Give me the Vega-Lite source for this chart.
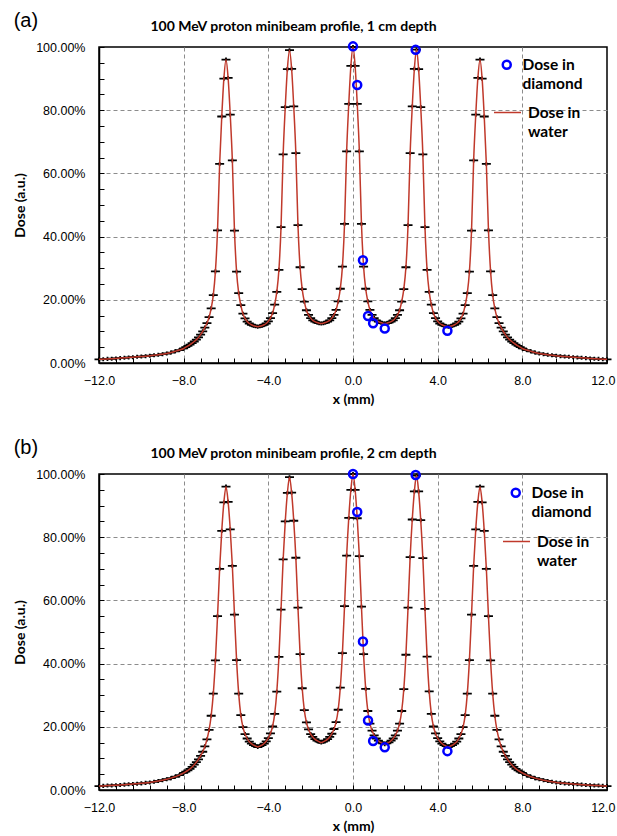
{
 "$schema": "https://vega.github.io/schema/vega-lite/v6.json",
 "background": "white",
 "padding": {"left": 12, "top": 10, "right": 2, "bottom": 2},
 "spacing": 29,
 "config": {
  "view": {"stroke": "black", "strokeWidth": 1.5},
  "axis": {
   "domainColor": "black", "domainWidth": 1.5,
   "tickColor": "black", "tickWidth": 1, "tickSize": -5,
   "labelFont": "Liberation Sans", "labelFontSize": 12.5, "labelColor": "black",
   "labelOverlap": false, "labelFlush": false,
   "titleFont": "Lato", "titleFontSize": 13, "titleFontWeight": "bold", "titleColor": "black",
   "gridColor": "#8c8c8c", "gridDash": [4, 3], "gridWidth": 1
  },
  "title": {"font": "Liberation Sans", "fontSize": 20, "fontWeight": "normal", "color": "black", "anchor": "start", "frame": "bounds"},
  "legend": {"labelFont": "Lato", "labelFontSize": 15.5, "labelFontWeight": "bold", "labelColor": "black", "padding": 0, "labelOffset": 6},
  "style": {"guide-label": {"lineHeight": 19}}
 },
 "datasets": {
  "prof": [
   {"x":-12.0,"a":1.15,"b":1.25},{"x":-11.8,"a":1.2,"b":1.3},{"x":-11.6,"a":1.3,"b":1.4},{"x":-11.4,"a":1.35,"b":1.45},{"x":-11.2,"a":1.45,"b":1.5},
   {"x":-11.0,"a":1.55,"b":1.6},{"x":-10.8,"a":1.65,"b":1.7},{"x":-10.6,"a":1.75,"b":1.8},{"x":-10.4,"a":1.85,"b":1.9},{"x":-10.2,"a":1.95,"b":2.0},
   {"x":-10.0,"a":2.05,"b":2.1},{"x":-9.8,"a":2.15,"b":2.25},{"x":-9.6,"a":2.3,"b":2.4},{"x":-9.4,"a":2.45,"b":2.6},{"x":-9.2,"a":2.6,"b":2.85},
   {"x":-9.0,"a":2.8,"b":3.1},{"x":-8.8,"a":3.0,"b":3.4},{"x":-8.6,"a":3.3,"b":3.75},{"x":-8.4,"a":3.7,"b":4.2},{"x":-8.2,"a":4.1,"b":4.7},
   {"x":-8.0,"a":4.6,"b":5.4},{"x":-7.9,"a":5.0,"b":5.8},{"x":-7.8,"a":5.4,"b":6.2},{"x":-7.7,"a":5.8,"b":6.7},{"x":-7.6,"a":6.3,"b":7.3},
   {"x":-7.5,"a":6.8,"b":8.0},{"x":-7.4,"a":7.4,"b":8.8},{"x":-7.3,"a":8.1,"b":9.7},{"x":-7.2,"a":9.0,"b":10.8},{"x":-7.1,"a":10.0,"b":12.1},
   {"x":-7.0,"a":11.2,"b":13.8},{"x":-6.9,"a":12.6,"b":16.0},{"x":-6.8,"a":14.5,"b":19.0},{"x":-6.7,"a":17.3,"b":23.5},{"x":-6.6,"a":21.5,"b":30.5},
   {"x":-6.5,"a":29.0,"b":41.0},{"x":-6.4,"a":42.0,"b":55.0},{"x":-6.3,"a":63.0,"b":70.0},{"x":-6.2,"a":78.0,"b":82.0},{"x":-6.1,"a":90.0,"b":91.0},
   {"x":-6.0,"a":96.0,"b":96.0},{"x":-5.9,"a":90.2,"b":91.2},{"x":-5.8,"a":78.6,"b":82.5},{"x":-5.7,"a":64.1,"b":70.9},{"x":-5.6,"a":41.9,"b":55.5},
   {"x":-5.5,"a":28.9,"b":41.1},{"x":-5.4,"a":22.1,"b":30.5},{"x":-5.3,"a":18.3,"b":23.7},{"x":-5.2,"a":15.6,"b":19.9},{"x":-5.1,"a":14.1,"b":17.7},
   {"x":-5.0,"a":13.1,"b":16.3},{"x":-4.9,"a":12.5,"b":15.3},{"x":-4.8,"a":12.1,"b":14.7},{"x":-4.7,"a":11.8,"b":14.2},{"x":-4.6,"a":11.6,"b":13.9},
   {"x":-4.5,"a":11.5,"b":13.6},{"x":-4.4,"a":11.6,"b":13.9},{"x":-4.3,"a":11.8,"b":14.2},{"x":-4.2,"a":12.1,"b":14.7},{"x":-4.1,"a":12.5,"b":15.4},
   {"x":-4.0,"a":13.2,"b":16.4},{"x":-3.9,"a":14.2,"b":17.9},{"x":-3.8,"a":15.8,"b":20.1},{"x":-3.7,"a":18.5,"b":24.1},{"x":-3.6,"a":22.5,"b":31.1},
   {"x":-3.5,"a":29.5,"b":42.1},{"x":-3.4,"a":43.0,"b":57.1},{"x":-3.3,"a":66.0,"b":73.0},{"x":-3.2,"a":81.0,"b":85.0},{"x":-3.1,"a":93.0,"b":94.0},
   {"x":-3.0,"a":99.0,"b":99.0},{"x":-2.9,"a":93.1,"b":94.1},{"x":-2.8,"a":81.2,"b":85.2},{"x":-2.7,"a":66.4,"b":73.5},{"x":-2.6,"a":43.6,"b":57.7},
   {"x":-2.5,"a":30.3,"b":43.0},{"x":-2.4,"a":23.4,"b":32.2},{"x":-2.3,"a":19.4,"b":25.3},{"x":-2.2,"a":16.7,"b":21.4},{"x":-2.1,"a":15.2,"b":19.2},
   {"x":-2.0,"a":14.2,"b":17.7},{"x":-1.9,"a":13.5,"b":16.8},{"x":-1.8,"a":13.1,"b":16.1},{"x":-1.7,"a":12.8,"b":15.6},{"x":-1.6,"a":12.6,"b":15.3},
   {"x":-1.5,"a":12.5,"b":15.0},{"x":-1.4,"a":12.6,"b":15.3},{"x":-1.3,"a":12.8,"b":15.6},{"x":-1.2,"a":13.1,"b":16.1},{"x":-1.1,"a":13.5,"b":16.8},
   {"x":-1.0,"a":14.2,"b":17.8},{"x":-0.9,"a":15.2,"b":19.3},{"x":-0.8,"a":16.8,"b":21.5},{"x":-0.7,"a":19.5,"b":25.4},{"x":-0.6,"a":23.5,"b":32.4},
   {"x":-0.5,"a":30.5,"b":43.3},{"x":-0.4,"a":44.0,"b":58.2},{"x":-0.3,"a":67.0,"b":74.2},{"x":-0.2,"a":82.0,"b":86.1},{"x":-0.1,"a":94.0,"b":95.0},
   {"x":0.0,"a":100.0,"b":100.0},{"x":0.1,"a":94.0,"b":95.0},{"x":0.2,"a":82.0,"b":86.0},{"x":0.3,"a":67.0,"b":74.0},{"x":0.4,"a":44.0,"b":58.0},
   {"x":0.5,"a":30.5,"b":43.0},{"x":0.6,"a":23.5,"b":32.0},{"x":0.7,"a":19.5,"b":25.0},{"x":0.8,"a":16.8,"b":21.0},{"x":0.9,"a":15.2,"b":18.8},
   {"x":1.0,"a":14.2,"b":17.3},{"x":1.1,"a":13.5,"b":16.3},{"x":1.2,"a":13.1,"b":15.6},{"x":1.3,"a":12.8,"b":15.1},{"x":1.4,"a":12.6,"b":14.8},
   {"x":1.5,"a":12.5,"b":14.5},{"x":1.6,"a":12.6,"b":14.8},{"x":1.7,"a":12.8,"b":15.1},{"x":1.8,"a":13.1,"b":15.6},{"x":1.9,"a":13.5,"b":16.3},
   {"x":2.0,"a":14.2,"b":17.3},{"x":2.1,"a":15.2,"b":18.8},{"x":2.2,"a":16.7,"b":21.0},{"x":2.3,"a":19.4,"b":25.0},{"x":2.4,"a":23.4,"b":31.9},
   {"x":2.5,"a":30.3,"b":42.8},{"x":2.6,"a":43.6,"b":57.7},{"x":2.7,"a":66.4,"b":73.7},{"x":2.8,"a":81.2,"b":85.6},{"x":2.9,"a":93.1,"b":94.5},
   {"x":3.0,"a":99.2,"b":99.5},{"x":3.1,"a":93.0,"b":94.5},{"x":3.2,"a":81.0,"b":85.4},{"x":3.3,"a":66.0,"b":73.4},{"x":3.4,"a":43.0,"b":57.3},
   {"x":3.5,"a":29.5,"b":42.2},{"x":3.6,"a":22.5,"b":31.2},{"x":3.7,"a":18.5,"b":24.1},{"x":3.8,"a":15.8,"b":20.1},{"x":3.9,"a":14.2,"b":17.9},
   {"x":4.0,"a":13.2,"b":16.4},{"x":4.1,"a":12.5,"b":15.4},{"x":4.2,"a":12.1,"b":14.7},{"x":4.3,"a":11.8,"b":14.2},{"x":4.4,"a":11.6,"b":13.9},
   {"x":4.5,"a":11.5,"b":13.6},{"x":4.6,"a":11.6,"b":13.9},{"x":4.7,"a":11.8,"b":14.2},{"x":4.8,"a":12.1,"b":14.7},{"x":4.9,"a":12.5,"b":15.3},
   {"x":5.0,"a":13.1,"b":16.3},{"x":5.1,"a":14.1,"b":17.7},{"x":5.2,"a":15.6,"b":19.9},{"x":5.3,"a":18.3,"b":23.7},{"x":5.4,"a":22.1,"b":30.5},
   {"x":5.5,"a":28.9,"b":41.1},{"x":5.6,"a":41.9,"b":55.5},{"x":5.7,"a":64.1,"b":70.9},{"x":5.8,"a":78.6,"b":82.5},{"x":5.9,"a":90.2,"b":91.2},
   {"x":6.0,"a":96.0,"b":96.0},{"x":6.1,"a":90.0,"b":91.0},{"x":6.2,"a":78.0,"b":82.0},{"x":6.3,"a":63.0,"b":70.0},{"x":6.4,"a":42.0,"b":55.0},
   {"x":6.5,"a":29.0,"b":41.0},{"x":6.6,"a":21.5,"b":30.5},{"x":6.7,"a":17.3,"b":23.5},{"x":6.8,"a":14.5,"b":19.0},{"x":6.9,"a":12.6,"b":16.0},
   {"x":7.0,"a":11.2,"b":13.8},{"x":7.1,"a":10.0,"b":12.1},{"x":7.2,"a":9.0,"b":10.8},{"x":7.3,"a":8.1,"b":9.7},{"x":7.4,"a":7.4,"b":8.8},
   {"x":7.5,"a":6.8,"b":8.0},{"x":7.6,"a":6.3,"b":7.3},{"x":7.7,"a":5.8,"b":6.7},{"x":7.8,"a":5.4,"b":6.2},{"x":7.9,"a":5.0,"b":5.8},
   {"x":8.0,"a":4.6,"b":5.4},{"x":8.2,"a":4.1,"b":4.7},{"x":8.4,"a":3.7,"b":4.2},{"x":8.6,"a":3.3,"b":3.75},{"x":8.8,"a":3.0,"b":3.4},
   {"x":9.0,"a":2.8,"b":3.1},{"x":9.2,"a":2.6,"b":2.85},{"x":9.4,"a":2.45,"b":2.6},{"x":9.6,"a":2.3,"b":2.4},{"x":9.8,"a":2.15,"b":2.25},
   {"x":10.0,"a":2.05,"b":2.1},{"x":10.2,"a":1.95,"b":2.0},{"x":10.4,"a":1.85,"b":1.9},{"x":10.6,"a":1.75,"b":1.8},{"x":10.8,"a":1.65,"b":1.7},
   {"x":11.0,"a":1.55,"b":1.6},{"x":11.2,"a":1.45,"b":1.5},{"x":11.4,"a":1.35,"b":1.45},{"x":11.6,"a":1.3,"b":1.4},{"x":11.8,"a":1.2,"b":1.3},
   {"x":12.0,"a":1.15,"b":1.25}
  ],
  "dia": [
   {"x":0,"a":100.2,"b":100},{"x":0.2,"a":88,"b":88},{"x":0.47,"a":32.5,"b":47},{"x":0.71,"a":14.9,"b":22},
   {"x":0.95,"a":12.6,"b":15.5},{"x":1.5,"a":10.9,"b":13.5},{"x":2.96,"a":99.1,"b":99.7},{"x":4.46,"a":10.2,"b":12.3}
  ]
 },
 "resolve": {"scale": {"color": "independent", "stroke": "independent"}, "legend": {"color": "independent", "stroke": "independent"}},
 "vconcat": [
  {
   "title": {"text": "(a)", "offset": -12},
   "width": 508, "height": 316,
   "resolve": {"axis": {"x": "independent"}},
   "layer": [
    {"data": {"name": "prof"},
     "mark": {"type": "point", "shape": "M-1,0L1,0M0,-0.45L0,0.45", "filled": false, "stroke": "black", "strokeWidth": 1.8, "size": 81, "opacity": 1},
     "encoding": {
      "x": {"field": "x", "type": "quantitative", "scale": {"domain": [-12, 12], "nice": false, "zero": false},
            "axis": {"orient": "bottom", "values": [-12,-11.2,-10.4,-9.6,-8.8,-8,-7.2,-6.4,-5.6,-4.8,-4,-3.2,-2.4,-1.6,-0.8,0,0.8,1.6,2.4,3.2,4,4.8,5.6,6.4,7.2,8,8.8,9.6,10.4,11.2,12],
                     "labelExpr": "abs(datum.value % 4) < 0.001 ? format(datum.value, '.1f') : ''",
                     "labelAlign": {"condition": {"test": "datum.value > 11", "value": "right"}, "value": "center"},
                     "labelOffset": {"condition": {"test": "datum.value > 11", "value": 8}, "value": 0},
                     "title": "x (mm)", "titleFontSize": 14, "labelPadding": 16, "titlePadding": 6,
                     "grid": true, "gridOpacity": {"condition": {"test": "abs(datum.value) < 11 && abs(datum.value % 4) < 0.001", "value": 1}, "value": 0}}},
      "y": {"field": "a", "type": "quantitative", "scale": {"domain": [0, 100], "nice": false},
            "axis": {"values": [0,5,10,15,20,25,30,35,40,45,50,55,60,65,70,75,80,85,90,95,100],
                     "labelExpr": "datum.value % 20 == 0 ? format(datum.value, '.2f') + '%' : ''",
                     "title": "Dose (a.u.)", "titleFontSize": 14, "titlePadding": 8, "labelPadding": 19,
                     "grid": true, "gridOpacity": {"condition": {"test": "datum.value % 20 == 0 && datum.value > 0 && datum.value < 100", "value": 1}, "value": 0}}}
     }},
    {"data": {"name": "prof"},
     "mark": {"type": "line", "interpolate": "monotone", "strokeWidth": 1.5},
     "encoding": {
      "x": {"field": "x", "type": "quantitative",
            "axis": {"orient": "top", "title": "100 MeV proton minibeam profile, 1 cm depth", "titleFont": "Lato", "titleFontSize": 14, "titleFontWeight": "bold",
                     "titleX": 194, "titleAlign": "center",
                     "labels": false, "ticks": false, "domain": false, "grid": false, "titlePadding": 14}},
      "y": {"field": "a", "type": "quantitative",
            "axis": {"values": [0,5,10,15,20,25,30,35,40,45,50,55,60,65,70,75,80,85,90,95,100],
                     "labelExpr": "datum.value % 20 == 0 ? format(datum.value, '.2f') + '%' : ''",
                     "title": "Dose (a.u.)", "titleFontSize": 14, "titlePadding": 8, "labelPadding": 19,
                     "grid": true, "gridOpacity": {"condition": {"test": "datum.value % 20 == 0 && datum.value > 0 && datum.value < 100", "value": 1}, "value": 0}}},
      "color": {"datum": "Dose in water", "type": "nominal", "scale": {"range": ["#c0392b"]},
                "legend": {"orient": "none", "legendX": 394, "legendY": 51, "title": null, "symbolType": "stroke", "symbolSize": 729, "symbolStrokeWidth": 1.5,
                           "labelExpr": "['Dose in', 'water']"}}
     }},
    {"data": {"name": "dia"},
     "mark": {"type": "point", "shape": "circle", "filled": false, "strokeWidth": 2.5, "size": 64, "opacity": 1},
     "encoding": {
      "x": {"field": "x", "type": "quantitative", "axis": null},
      "y": {"field": "a", "type": "quantitative",
            "axis": {"values": [0,5,10,15,20,25,30,35,40,45,50,55,60,65,70,75,80,85,90,95,100],
                     "labelExpr": "datum.value % 20 == 0 ? format(datum.value, '.2f') + '%' : ''",
                     "title": "Dose (a.u.)", "titleFontSize": 14, "titlePadding": 8, "labelPadding": 19,
                     "grid": true, "gridOpacity": {"condition": {"test": "datum.value % 20 == 0 && datum.value > 0 && datum.value < 100", "value": 1}, "value": 0}}},
      "stroke": {"datum": "Dose in diamond", "type": "nominal", "scale": {"range": ["#0000ff"]},
                 "legend": {"orient": "none", "legendX": 400, "legendY": 10, "title": null, "symbolType": "circle", "symbolSize": 64, "symbolStrokeWidth": 2.5,
                            "labelOffset": 8, "labelExpr": "['Dose in', 'diamond']"}}
     }}
   ]
  },
  {
   "title": {"text": "(b)", "offset": -12},
   "width": 508, "height": 316,
   "resolve": {"axis": {"x": "independent"}},
   "layer": [
    {"data": {"name": "prof"},
     "mark": {"type": "point", "shape": "M-1,0L1,0M0,-0.45L0,0.45", "filled": false, "stroke": "black", "strokeWidth": 1.8, "size": 81, "opacity": 1},
     "encoding": {
      "x": {"field": "x", "type": "quantitative", "scale": {"domain": [-12, 12], "nice": false, "zero": false},
            "axis": {"orient": "bottom", "values": [-12,-11.2,-10.4,-9.6,-8.8,-8,-7.2,-6.4,-5.6,-4.8,-4,-3.2,-2.4,-1.6,-0.8,0,0.8,1.6,2.4,3.2,4,4.8,5.6,6.4,7.2,8,8.8,9.6,10.4,11.2,12],
                     "labelExpr": "abs(datum.value % 4) < 0.001 ? format(datum.value, '.1f') : ''",
                     "labelAlign": {"condition": {"test": "datum.value > 11", "value": "right"}, "value": "center"},
                     "labelOffset": {"condition": {"test": "datum.value > 11", "value": 8}, "value": 0},
                     "title": "x (mm)", "titleFontSize": 14, "labelPadding": 16, "titlePadding": 6,
                     "grid": true, "gridOpacity": {"condition": {"test": "abs(datum.value) < 11 && abs(datum.value % 4) < 0.001", "value": 1}, "value": 0}}},
      "y": {"field": "b", "type": "quantitative", "scale": {"domain": [0, 100], "nice": false},
            "axis": {"values": [0,5,10,15,20,25,30,35,40,45,50,55,60,65,70,75,80,85,90,95,100],
                     "labelExpr": "datum.value % 20 == 0 ? format(datum.value, '.2f') + '%' : ''",
                     "title": "Dose (a.u.)", "titleFontSize": 14, "titlePadding": 8, "labelPadding": 19,
                     "grid": true, "gridOpacity": {"condition": {"test": "datum.value % 20 == 0 && datum.value > 0 && datum.value < 100", "value": 1}, "value": 0}}}
     }},
    {"data": {"name": "prof"},
     "mark": {"type": "line", "interpolate": "monotone", "strokeWidth": 1.5},
     "encoding": {
      "x": {"field": "x", "type": "quantitative",
            "axis": {"orient": "top", "title": "100 MeV proton minibeam profile, 2 cm depth", "titleFont": "Lato", "titleFontSize": 14, "titleFontWeight": "bold",
                     "titleX": 194, "titleAlign": "center",
                     "labels": false, "ticks": false, "domain": false, "grid": false, "titlePadding": 14}},
      "y": {"field": "b", "type": "quantitative",
            "axis": {"values": [0,5,10,15,20,25,30,35,40,45,50,55,60,65,70,75,80,85,90,95,100],
                     "labelExpr": "datum.value % 20 == 0 ? format(datum.value, '.2f') + '%' : ''",
                     "title": "Dose (a.u.)", "titleFontSize": 14, "titlePadding": 8, "labelPadding": 19,
                     "grid": true, "gridOpacity": {"condition": {"test": "datum.value % 20 == 0 && datum.value > 0 && datum.value < 100", "value": 1}, "value": 0}}},
      "color": {"datum": "Dose in water", "type": "nominal", "scale": {"range": ["#c0392b"]},
                "legend": {"orient": "none", "legendX": 403, "legendY": 53, "title": null, "symbolType": "stroke", "symbolSize": 729, "symbolStrokeWidth": 1.5,
                           "labelExpr": "['Dose in', 'water']"}}
     }},
    {"data": {"name": "dia"},
     "mark": {"type": "point", "shape": "circle", "filled": false, "strokeWidth": 2.5, "size": 64, "opacity": 1},
     "encoding": {
      "x": {"field": "x", "type": "quantitative", "axis": null},
      "y": {"field": "b", "type": "quantitative",
            "axis": {"values": [0,5,10,15,20,25,30,35,40,45,50,55,60,65,70,75,80,85,90,95,100],
                     "labelExpr": "datum.value % 20 == 0 ? format(datum.value, '.2f') + '%' : ''",
                     "title": "Dose (a.u.)", "titleFontSize": 14, "titlePadding": 8, "labelPadding": 19,
                     "grid": true, "gridOpacity": {"condition": {"test": "datum.value % 20 == 0 && datum.value > 0 && datum.value < 100", "value": 1}, "value": 0}}},
      "stroke": {"datum": "Dose in diamond", "type": "nominal", "scale": {"range": ["#0000ff"]},
                 "legend": {"orient": "none", "legendX": 409, "legendY": 11, "title": null, "symbolType": "circle", "symbolSize": 64, "symbolStrokeWidth": 2.5,
                            "labelOffset": 8, "labelExpr": "['Dose in', 'diamond']"}}
     }}
   ]
  }
 ]
}
